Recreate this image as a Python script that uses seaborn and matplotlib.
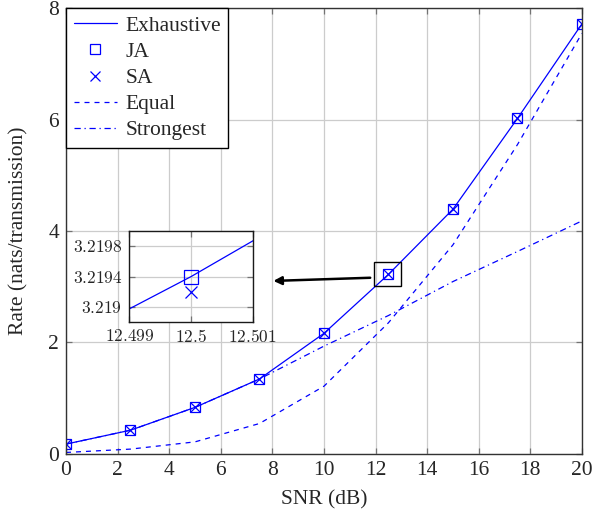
import seaborn as sns
import pandas as pd
import matplotlib.pyplot as plt
from matplotlib.patches import Rectangle
from matplotlib.ticker import FuncFormatter

# values
snr = [0, 2.5, 5, 7.5, 10, 12.5, 15, 17.5, 20]
exhaustive = [0.17, 0.42, 0.83, 1.34, 2.16, 3.2194, 4.39, 6.02, 7.72]
ja = [0.17, 0.42, 0.83, 1.34, 2.16, 3.2194, 4.39, 6.02, 7.72]
sa = [0.17, 0.42, 0.83, 1.34, 2.16, 3.2192, 4.39, 6.02, 7.72]
equal = [0.02, 0.08, 0.21, 0.54, 1.21, 2.35, 3.75, 5.55, 7.55]
strongest = [0.17, 0.42, 0.83, 1.34, 1.93, 2.48, 3.09, 3.63, 4.18]

x_ticks = [0, 2, 4, 6, 8, 10, 12, 14, 16, 18, 20]
y_ticks = [0, 2, 4, 6, 8]
inset_x_ticks = [12.499, 12.5, 12.501]
inset_y_ticks = [3.219, 3.2194, 3.2198]

df = pd.DataFrame({'snr': snr, 'Exhaustive': exhaustive, 'JA': ja, 'SA': sa,
                   'Equal': equal, 'Strongest': strongest})

sns.set_style('ticks')
plt.rcParams['font.family'] = ['Liberation Serif', 'DejaVu Serif']
plt.rcParams['mathtext.fontset'] = 'cm'

blue = (0, 0, 1)
fig = plt.figure(figsize=(5.92, 5.16), dpi=100)
ax = fig.add_axes([0.1115, 0.121, 0.8715, 0.863])


def draw(ax, msize_sq, msize_x):
    sns.lineplot(data=df, x='snr', y='Exhaustive', ax=ax, color=blue, lw=0.9, label='Exhaustive')
    ax.plot(df['snr'], df['JA'], ls='none', marker='s', ms=msize_sq, mfc='none', mec=blue, mew=0.9, label='JA')
    ax.plot(df['snr'], df['SA'], ls='none', marker='x', ms=msize_x, color=blue, mew=0.9, label='SA')
    sns.lineplot(data=df, x='snr', y='Equal', ax=ax, color=blue, lw=0.9, label='Equal')
    ax.lines[-1].set_linestyle((0, (4, 4)))
    sns.lineplot(data=df, x='snr', y='Strongest', ax=ax, color=blue, lw=0.9, label='Strongest')
    ax.lines[-1].set_linestyle((0, (5, 3, 1, 3)))


draw(ax, 7, 6.5)
ax.set_xlim(0, 20)
ax.set_ylim(0, 8)
ax.set_xticks(x_ticks)
ax.set_yticks(y_ticks)
ax.grid(True, color='0.8', lw=0.9)
ax.tick_params(direction='in', top=True, right=True, length=4, width=0.9,
               color='0.45', labelsize=15.5, pad=5)
for s in ax.spines.values():
    s.set_color('0.2')
    s.set_linewidth(1.0)
ax.set_xlabel('SNR (dB)', fontsize=15.5, labelpad=8)
ax.set_ylabel('Rate (nats/transmission)', fontsize=15.5, labelpad=14)

handles, labels = ax.get_legend_handles_labels()
order = ['Exhaustive', 'JA', 'SA', 'Equal', 'Strongest']
hmap = dict(zip(labels, handles))
leg = ax.legend([hmap[k] for k in order], order, loc='upper left', borderaxespad=0,
                fontsize=15.5, fancybox=False, framealpha=1, edgecolor='black',
                handlelength=2.0, handletextpad=0.4, labelspacing=0.28, borderpad=0.35)
leg.get_frame().set_linewidth(1.0)

# zoom box and arrow
ax.add_patch(Rectangle((11.92, 3.01), 1.07, 0.43, fill=False, ec='black', lw=1.0, zorder=5))
ax.annotate('', xy=(7.93, 3.10), xytext=(11.9, 3.16),
            arrowprops=dict(arrowstyle='-|>', color='black', lw=1.8, mutation_scale=12))

# inset
axin = fig.add_axes([0.2184, 0.3754, 0.2084, 0.177])
draw(axin, 9.5, 8)
if axin.get_legend() is not None:
    axin.get_legend().remove()
axin.set_xlim(12.499, 12.501)
axin.set_ylim(3.2188, 3.2200)
axin.set_xticks(inset_x_ticks)
axin.set_yticks(inset_y_ticks)
axin.xaxis.set_major_formatter(FuncFormatter(lambda v, p: '$%g$' % round(v, 4)))
axin.yaxis.set_major_formatter(FuncFormatter(lambda v, p: '$%g$' % round(v, 5)))
axin.grid(True, color='0.8', lw=0.9)
axin.tick_params(direction='in', top=True, right=True, length=4, width=0.9,
                 color='0.45', labelsize=12.5, pad=5)
axin.set_xlabel('')
axin.set_ylabel('')
for s in axin.spines.values():
    s.set_color('0.1')
    s.set_linewidth(1.0)

fig.savefig('out.png', dpi=100)
